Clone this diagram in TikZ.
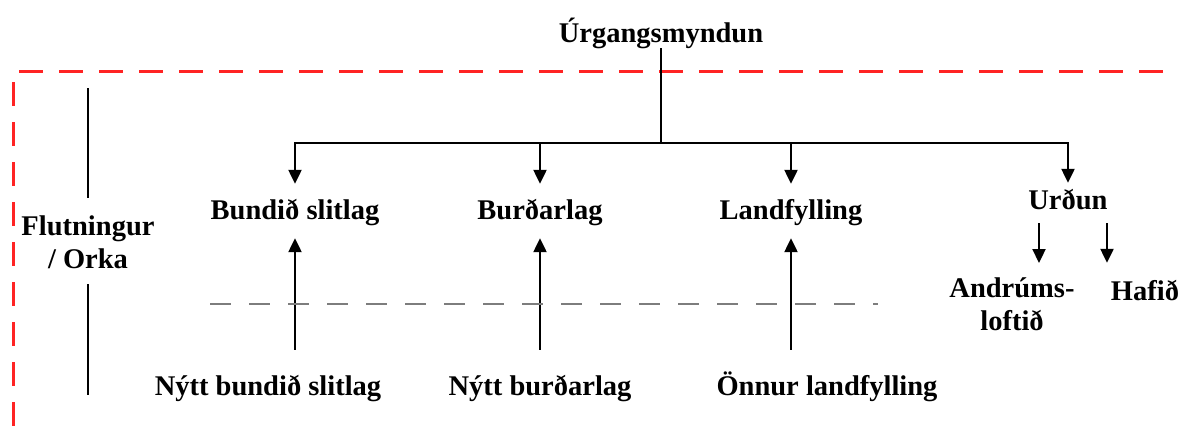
\documentclass[tikz,border=0pt]{standalone}
\usepackage{fontspec}
\setmainfont{Liberation Serif}
\usetikzlibrary{arrows.meta}
\definecolor{frameRed}{RGB}{255,35,35}
\definecolor{lineGray}{RGB}{125,125,125}

\begin{document}
\begin{tikzpicture}[x=1pt,y=-1pt,
  lblfont/.style={font=\fontsize{28.5}{33}\selectfont\bfseries},
  lbl/.style={lblfont, inner sep=0pt, anchor=base, text height=19pt, text depth=6pt},
  mlbl/.style={lblfont, inner sep=0pt, anchor=north, align=center},
  link/.style={line width=2.3pt, black},
  arr/.style={link, -{Triangle[length=14pt,width=13pt]}},
  frame/.style={line width=3pt, frameRed, dash pattern=on 24pt off 16pt},
  level/.style={line width=2.2pt, lineGray, dash pattern=on 21pt off 18pt}]
\useasboundingbox (0,0) rectangle (1184,431);

% dashed system boundary
\draw[frame] (19,71) -- (1171,71);
\draw[frame] (13,82) -- (13,431);

% labels
\node[lbl] (src) at (661,42) {Úrgangsmyndun};
\node[lbl] (bun) at (295,219) {Bundið slitlag};
\node[lbl] (bur) at (540,219) {Burðarlag};
\node[lbl] (lan) at (791,219) {Landfylling};
\node[lbl] (urd) at (1068,209) {Urðun};
\node[lbl] (nbs) at (268,395) {Nýtt bundið slitlag};
\node[lbl] (nbu) at (540,395) {Nýtt burðarlag};
\node[lbl] (onn) at (827,395) {Önnur landfylling};
\node[mlbl] (flo) at (88,216) {Flutningur\\/ Orka};
\node[mlbl] (and) at (1012,277) {Andrúms-\\loftið};
\node[lbl] (haf) at (1145,300) {Hafið};

% distribution tree
\coordinate (hub) at (661,143);
\draw[link] (src) -- (hub);
\draw[arr, shorten >=16pt] (hub) -| (bun);
\draw[arr, shorten >=16pt] (hub) -| (bur);
\draw[arr, shorten >=16pt] (hub) -| (lan);
\draw[arr, shorten >=7pt] (hub) -| (urd);

% new material entering
\draw[arr, shorten <=26pt, shorten >=13pt] (nbs.north -| bun.south) -- (bun.south);
\draw[arr, shorten <=26pt, shorten >=13pt] (nbu.north -| bur.south) -- (bur.south);
\draw[arr, shorten <=26pt, shorten >=13pt] (onn.north -| lan.south) -- (lan.south);

% landfill outputs
\draw[arr, shorten <=8pt, shorten >=14pt] ([xshift=-29pt]urd.south) -- ([xshift=-29pt]urd.south |- and.north);
\draw[arr, shorten <=8pt, shorten >=18pt] ([xshift=39pt]urd.south) -- ([xshift=39pt]urd.south |- haf.north);

% level line
\coordinate (lvL) at (210,304);
\coordinate (lvR) at (878,304);
\draw[level] (lvL) -- (lvR);

% transport / energy axis
\coordinate (ftop) at (88,88);
\coordinate (fbot) at (88,395);
\draw[link, shorten >=18pt] (ftop) -- (flo.north);
\draw[link, shorten <=15pt] (flo.south) -- (fbot);
\end{tikzpicture}
\end{document}
